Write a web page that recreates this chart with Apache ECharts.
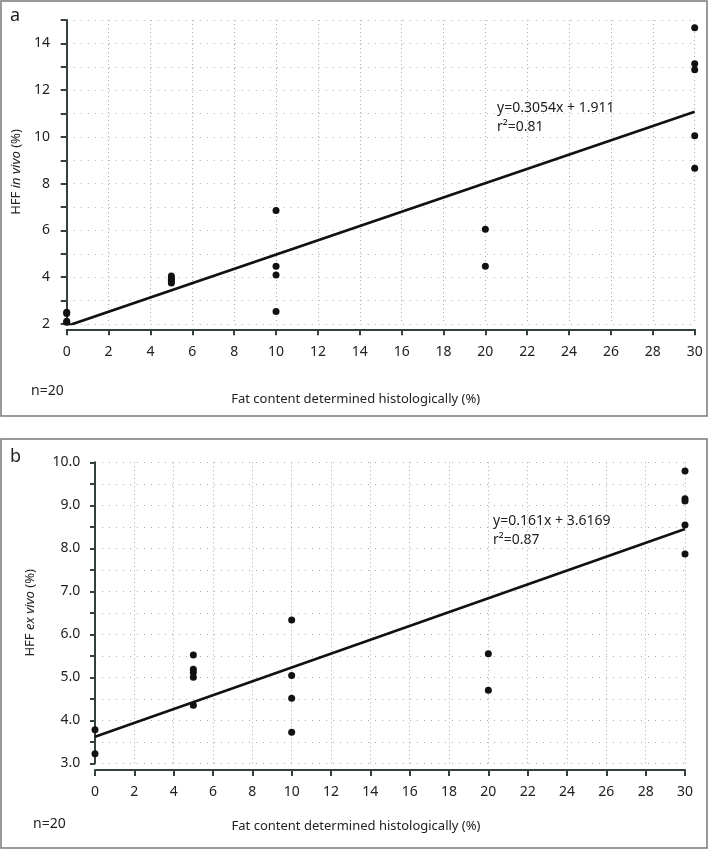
<!DOCTYPE html>
<html>
<head>
<meta charset="utf-8">
<script src="https://cdn.jsdelivr.net/npm/echarts@6/dist/echarts.min.js"></script>
<style>
html,body{margin:0;padding:0;background:#fff;}
#c{width:709px;height:850px;}
</style>
</head>
<body>
<div id="c"></div>
<script>
// Panel a: HFF in vivo
const xA = [0, 0, 0, 0, 5, 5, 5, 5, 5, 10, 10, 10, 10, 20, 20, 30, 30, 30, 30, 30];
const yA = [2.50, 2.45, 2.12, 2.07, 4.05, 3.97, 3.90, 3.82, 3.75, 6.85, 4.47, 4.10, 2.53, 6.05, 4.47, 14.67, 13.13, 12.87, 10.05, 8.66];
const fitAx = [0, 30];
const fitAy = [1.911, 11.073];
// Panel b: HFF ex vivo
const xB = [0, 0, 5, 5, 5, 5, 5, 10, 10, 10, 10, 20, 20, 30, 30, 30, 30, 30];
const yB = [3.78, 3.22, 5.52, 5.19, 5.11, 5.00, 4.35, 6.33, 5.04, 4.51, 3.72, 5.55, 4.70, 9.80, 9.15, 9.10, 8.54, 7.87];
const fitBx = [0, 30];
const fitBy = [3.6169, 8.4469];
// texts
const xTitle = 'Fat content determined histologically (%)';
const yTitleA = 'HFF {i|in vivo} (%)';
const yTitleB = 'HFF {i|ex vivo} (%)';
const eqA = ['y=0.3054x + 1.911', 'r\u00B2=0.81'];
const eqB = ['y=0.161x + 3.6169', 'r\u00B2=0.87'];
const nText = 'n=20';

const FONT = '"Noto Sans", "Open Sans", sans-serif';
const AX = '#33403f';
const GRIDC = '#9fb0ae';

function pairs(xs, ys){ return xs.map((x,i)=>[x, ys[i]]); }

function xAxisCfg(gi, offset, margin, gap, padR){
  return {
    type:'value', gridIndex:gi, min:0, max:30, interval:2, offset:offset,
    name:xTitle, nameLocation:'middle', nameGap:gap,
    nameTextStyle:{fontFamily:FONT, fontSize:13, color:'#222', padding:[0,padR,0,0]},
    axisLine:{onZero:false, lineStyle:{color:AX, width:2}},
    axisTick:{length:6, lineStyle:{color:AX, width:2}},
    axisLabel:{fontFamily:FONT, fontSize:14, color:'#222', margin:margin},
    splitLine:{show:true, lineStyle:{color:GRIDC, width:1, type:[1,3]}}
  };
}

const chart = echarts.init(document.getElementById('c'));
chart.setOption({
  backgroundColor:'#fff',
  animation:false,
  grid:[
    {left:66.7, right:14.3, top:20, height:304},
    {left:95, right:24, top:462.3, height:301}
  ],
  xAxis:[ xAxisCfg(0, 5.3, 16, 63, 50), xAxisCfg(1, 6.7, 15, 50, 68) ],
  yAxis:[
    {type:'value', gridIndex:0, min:2, max:15, interval:1, offset:7.7,
     name:yTitleA, nameLocation:'middle', nameGap:34, nameRotate:90,
     nameTextStyle:{fontFamily:FONT, fontSize:13, color:'#222', rich:{i:{fontFamily:FONT, fontSize:13, fontStyle:'italic', color:'#222'}}},
     axisLine:{show:true, lineStyle:{color:AX, width:2}},
     axisTick:{show:true, length:6, lineStyle:{color:AX, width:2}},
     axisLabel:{fontFamily:FONT, fontSize:14, color:'#222', margin:9,
       formatter:v => (v % 2 === 0 && v <= 14) ? String(v) : ''},
     splitLine:{show:true, lineStyle:{color:GRIDC, width:1, type:[1,6]}}},
    {type:'value', gridIndex:1, min:3, max:10, interval:0.5, offset:5.7,
     name:yTitleB, nameLocation:'middle', nameGap:53, nameRotate:90,
     nameTextStyle:{fontFamily:FONT, fontSize:13, color:'#222', rich:{i:{fontFamily:FONT, fontSize:13, fontStyle:'italic', color:'#222'}}},
     axisLine:{show:true, lineStyle:{color:AX, width:2}},
     axisTick:{show:true, length:5, lineStyle:{color:AX, width:2}},
     axisLabel:{fontFamily:FONT, fontSize:14, color:'#222', margin:9,
       formatter:v => (Math.abs(v - Math.round(v)) < 1e-9) ? v.toFixed(1) : ''},
     splitLine:{show:true, lineStyle:{color:GRIDC, width:1, type:[1,6]}}}
  ],
  series:[
    {type:'line', xAxisIndex:0, yAxisIndex:0, data:pairs(fitAx, fitAy), showSymbol:false, clip:true,
     lineStyle:{color:'#111', width:2.6}, z:3},
    {type:'scatter', xAxisIndex:0, yAxisIndex:0, data:pairs(xA, yA), symbolSize:7,
     itemStyle:{color:'#111', opacity:1}, z:4},
    {type:'line', xAxisIndex:1, yAxisIndex:1, data:pairs(fitBx, fitBy), showSymbol:false, clip:true,
     lineStyle:{color:'#111', width:2.6}, z:3},
    {type:'scatter', xAxisIndex:1, yAxisIndex:1, data:pairs(xB, yB), symbolSize:7,
     itemStyle:{color:'#111', opacity:1}, z:4}
  ],
  graphic:[
    {type:'rect', shape:{x:1, y:1, width:706, height:415}, style:{fill:null, stroke:'#7a7a7a', lineWidth:1.5}, silent:true},
    {type:'rect', shape:{x:1, y:439, width:706, height:409}, style:{fill:null, stroke:'#7a7a7a', lineWidth:1.5}, silent:true},
    {type:'text', left:10, top:7, style:{text:'a', fontFamily:FONT, fontSize:18, fill:'#222'}},
    {type:'text', left:10, top:448, style:{text:'b', fontFamily:FONT, fontSize:18, fill:'#222'}},
    {type:'text', left:31, top:384, style:{text:nText, fontFamily:FONT, fontSize:14, fill:'#222'}},
    {type:'text', left:33, top:817, style:{text:nText, fontFamily:FONT, fontSize:14, fill:'#222'}},
    {type:'text', left:497, top:101, style:{text:eqA[0], fontFamily:FONT, fontSize:14, fill:'#222'}},
    {type:'text', left:497, top:120, style:{text:eqA[1], fontFamily:FONT, fontSize:14, fill:'#222'}},
    {type:'text', left:493, top:514, style:{text:eqB[0], fontFamily:FONT, fontSize:14, fill:'#222'}},
    {type:'text', left:493, top:533, style:{text:eqB[1], fontFamily:FONT, fontSize:14, fill:'#222'}}
  ]
});
</script>
</body>
</html>
